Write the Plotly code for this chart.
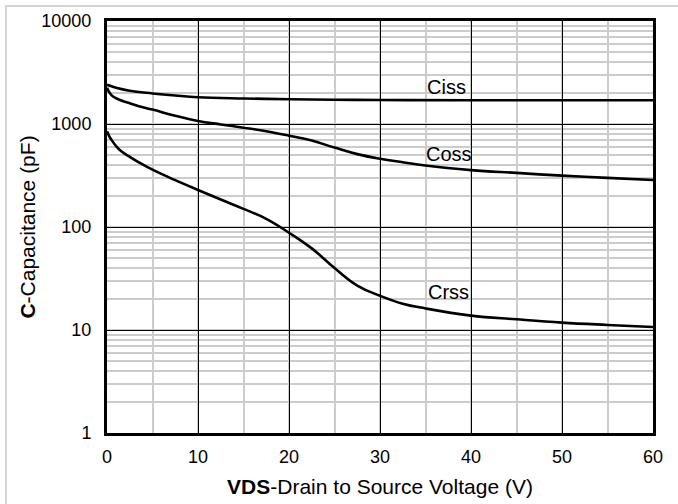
import math
import plotly.graph_objects as go

vds_ciss = [0, 0.5, 1, 2.5, 5, 7.5, 10, 15, 20, 25, 30, 40, 50, 60]
ciss = [2400, 2320, 2250, 2100, 1980, 1890, 1820, 1770, 1740, 1720, 1710, 1700, 1700, 1700]

vds_coss = [0, 0.3, 0.7, 1.5, 2.5, 3.5, 5, 7.5, 10, 12.5, 15, 17.5, 20, 22.5, 25, 27.5, 30, 32.5, 35, 40, 45, 50, 55, 60]
coss = [2250, 2000, 1840, 1700, 1590, 1490, 1380, 1200, 1070, 990, 920, 850, 770, 690, 590, 510, 460, 425, 395, 357, 335, 315, 300, 286]

vds_crss = [0, 0.25, 0.5, 1, 1.5, 2.5, 3.5, 5, 7.5, 10, 12.5, 15, 17.5, 20, 22.5, 25, 27.5, 30, 32.5, 35, 40, 45, 50, 55, 60]
crss = [850, 760, 700, 610, 550, 480, 425, 360, 285, 229, 185, 150, 120, 88, 62, 40, 27, 21.5, 18, 16.2, 13.8, 12.7, 11.8, 11.2, 10.7]

labels = ["Ciss", "Coss", "Crss"]
label_x = [37.3, 37.6, 37.5]
label_y = [2300, 512, 23.5]

x_ticks = [0, 10, 20, 30, 40, 50, 60]
y_ticks = [1, 10, 100, 1000, 10000]

FONT = "Liberation Sans, Arial, sans-serif"

fig = go.Figure()
for xs, ys, name in [(vds_ciss, ciss, "Ciss"), (vds_coss, coss, "Coss"), (vds_crss, crss, "Crss")]:
    fig.add_trace(go.Scatter(x=xs, y=ys, mode="lines", name=name,
                             line=dict(color="black", width=2.6, shape="spline", smoothing=1.2),
                             showlegend=False, hoverinfo="skip"))

for t, x, y in zip(labels, label_x, label_y):
    fig.add_annotation(x=x, y=math.log10(y), yref="y", xref="x", text=t, showarrow=False,
                       font=dict(size=20, color="black", family=FONT))

fig.update_xaxes(range=[0, 60], tickvals=x_ticks, ticktext=[str(v) for v in x_ticks],
                 showgrid=True, gridcolor="black", gridwidth=1,
                 minor=dict(dtick=5, showgrid=True, gridcolor="#cccccc", gridwidth=1.5),
                 showline=True, linecolor="black", linewidth=3, mirror=True,
                 ticks="", ticklabelstandoff=5, zeroline=False, automargin=False,
                 tickfont=dict(size=18, family=FONT, color="black"),
                 title=dict(text="<b>VDS</b>-Drain to Source Voltage (V)", standoff=14,
                            font=dict(size=21, family=FONT, color="black")))
fig.update_yaxes(type="log", range=[0, 4], tickvals=y_ticks, ticktext=[str(v) for v in y_ticks],
                 showgrid=True, gridcolor="black", gridwidth=1,
                 minor=dict(dtick="D1", showgrid=True, gridcolor="#cccccc", gridwidth=1.5),
                 showline=True, linecolor="black", linewidth=3, mirror=True,
                 ticks="", ticklabelstandoff=9, zeroline=False, automargin=False,
                 tickfont=dict(size=18, family=FONT, color="black"),
                 title=dict(text="<b>C</b>-Capacitance (pF)", standoff=0,
                            font=dict(size=21, family=FONT, color="black")))

# outer light frame of the picture (only its left and top edges fall inside the view)
fig.add_annotation(xref="paper", yref="paper", x=-0.187, y=1.039, xanchor="left", yanchor="top",
                   text=" ", showarrow=False, width=720, height=540, borderpad=0,
                   bordercolor="#d4d4d4", borderwidth=2, bgcolor="rgba(0,0,0,0)")

fig.update_layout(width=678, height=504, margin=dict(l=107, r=25, t=21, b=71),
                  paper_bgcolor="white", plot_bgcolor="white",
                  font=dict(family=FONT, color="black"))

fig.write_html("out.html", config={"displayModeBar": False},
               post_script="document.body.style.margin='0';document.body.style.overflow='hidden';")
